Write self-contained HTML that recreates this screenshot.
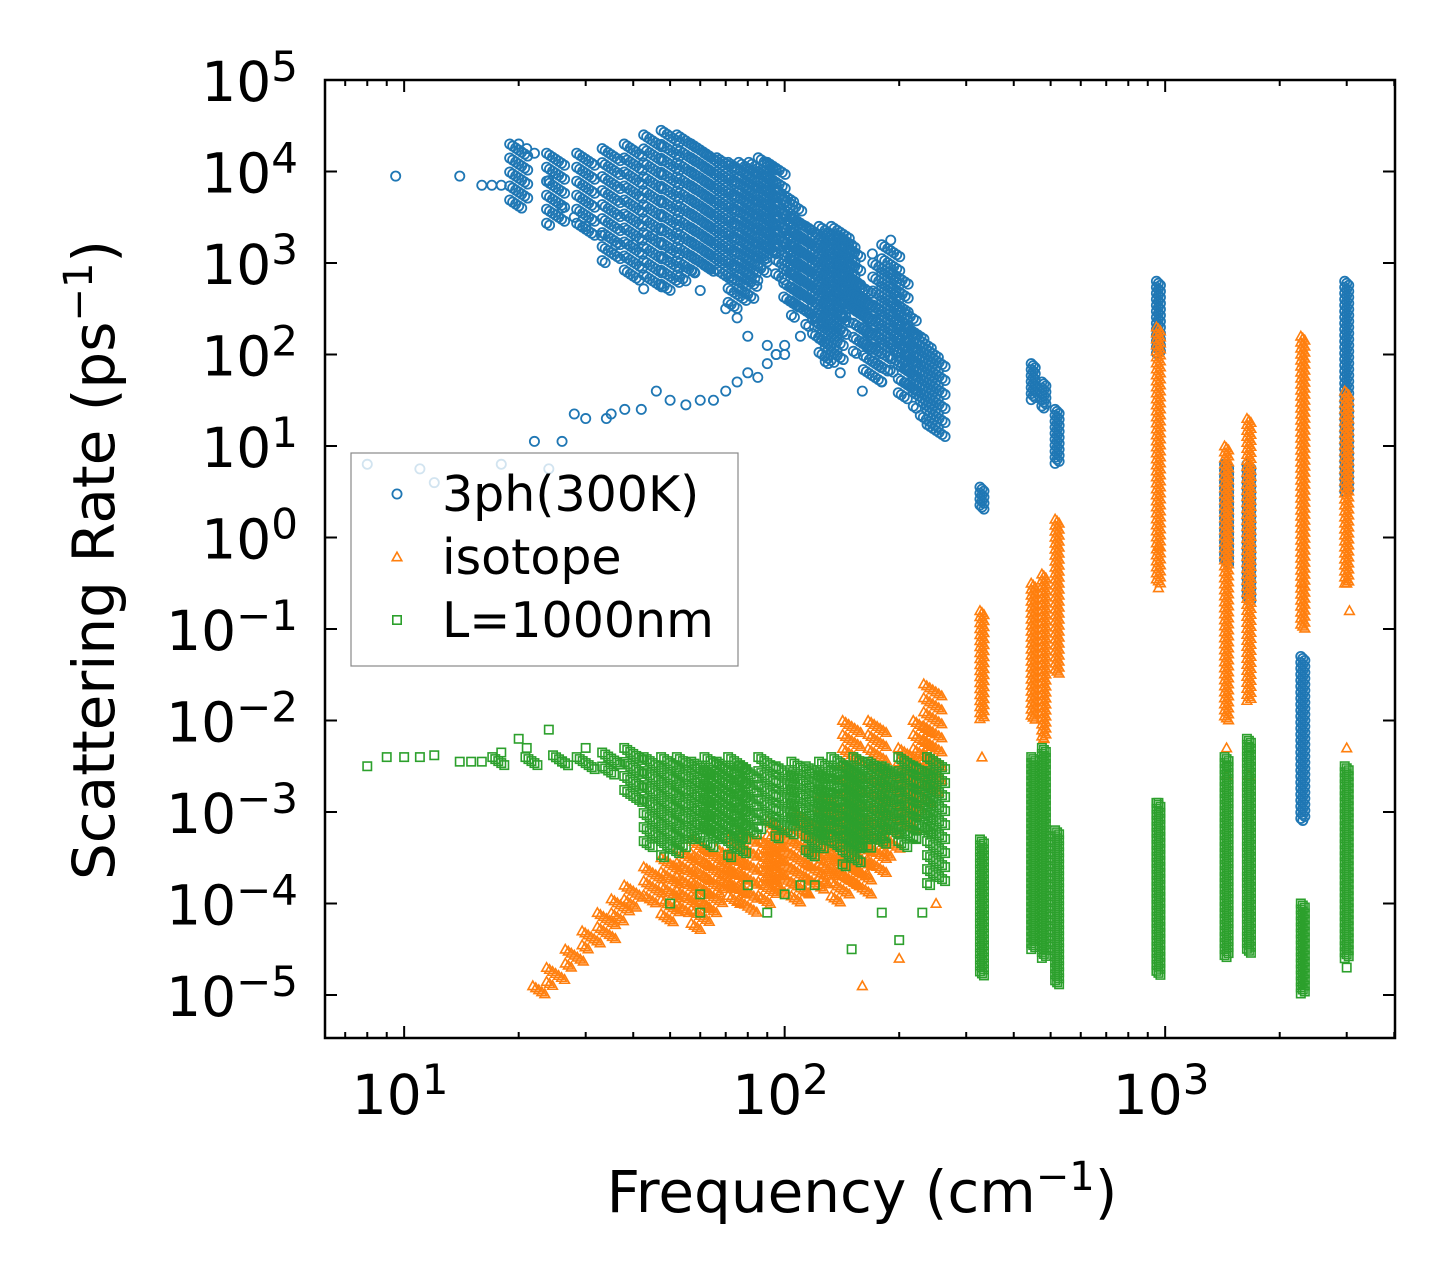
<!DOCTYPE html>
<html><head><meta charset="utf-8"><style>
html,body{margin:0;padding:0;background:#fff;}
svg{display:block;font-family:"DejaVu Sans","Liberation Sans",sans-serif;}
</style></head><body>
<svg id="chart" width="1455" height="1287" viewBox="0 0 1455 1287" xmlns="http://www.w3.org/2000/svg">
<rect width="1455" height="1287" fill="#fff"/>
<g id="marks"></g>
<g id="axes"></g>
</svg>
<script>
// ---- data (log10 values) ----
// dense column bands: [frequency, log10 low, log10 high]
const blueBands = [[20,3.6,4.3],[25,3.4,4.2],[30,3.3,4.2],[35,3.0,4.25],[40,2.8,4.3],[45,2.7,4.4],[50,2.7,4.45],[55,2.8,4.4],[60,2.9,4.3],[65,2.9,4.2],[70,2.8,4.15],[75,2.5,4.1],[80,2.6,4.1],[85,2.8,4.1],[90,3.0,4.15],[95,3.1,4.1],[100,2.8,3.8],[105,2.5,3.7],[110,2.4,3.5],[115,2.6,3.3],[120,2.3,3.4],[125,2.1,3.3],[130,1.9,3.4],[135,1.9,3.3],[140,2.2,3.4],[145,2.5,3.3],[150,2.4,3.2],[160,2.0,2.8],[170,1.7,2.6],[180,1.8,3.0],[190,2.0,3.2],[200,1.8,2.9],[210,1.5,2.5],[220,1.6,2.3],[230,1.4,2.2],[240,1.2,2.1],[250,1.1,2.0],
 [330,0.3,0.55],[450,1.5,1.9],[480,1.4,1.7],[520,0.8,1.4],[960,2.0,2.8],[1450,-0.3,0.8],[1660,-0.7,0.8],[2300,-3.1,-1.3],[3000,0.5,2.8]];
const blueFreq = [9.5,14,16,17,18,20,21,22,24,26,28,30,33,36,40,45,50,55,60,70,75,80,90,95,100,110,120,130,140,150,170,190,200,210,30,34,38,42,46,50,55,60,65,70,75,80,85,90,95,100,120,140,160,180,8,11,12,18,24,22,26,28,35];
const blueVal  = [3.95,3.95,3.85,3.85,3.85,4.3,4.25,4.2,3.9,3.6,3.5,3.4,3.3,3.2,3.2,3.3,3.1,2.9,2.7,2.5,2.4,2.2,2.1,2.0,2.0,2.2,2.4,2.7,3.0,3.2,3.1,3.25,2.6,2.4,1.3,1.3,1.4,1.4,1.6,1.5,1.45,1.5,1.5,1.6,1.7,1.8,1.75,1.9,2.0,2.1,2.3,1.8,1.6,1.7,0.8,0.75,0.6,0.8,0.75,1.05,1.05,1.35,1.35];
const orangeBands = [[23,-5,-4.9],[25,-4.9,-4.7],[28,-4.7,-4.5],[31,-4.5,-4.3],[34,-4.4,-4.1],[37,-4.2,-3.95],[40,-4.05,-3.8],[45,-4.0,-3.6],[50,-4.2,-3.5],[55,-4.1,-3.4],[60,-4.3,-3.3],[65,-4.1,-3.4],[70,-3.9,-3.4],[75,-4.0,-3.3],[80,-4.1,-3.2],[90,-4.0,-3.3],[95,-3.8,-3.1],[100,-3.9,-3.2],[110,-4.0,-3.0],[120,-3.9,-3.1],[130,-3.8,-2.8],[140,-4.0,-3.0],[150,-3.8,-2.0],[160,-3.9,-3.0],[175,-3.7,-2.0],[190,-3.5,-2.5],[210,-3.2,-2.3],[230,-3.0,-2.0],[245,-2.8,-1.6],
 [330,-2.0,-0.8],[450,-2.0,-0.5],[480,-2.2,-0.4],[520,-1.5,0.2],[960,-0.5,2.3],[1450,-2.0,1.0],[1660,-1.8,1.3],[2300,-1.0,2.2],[3000,-0.5,1.6]];
const orangeFreq = [160,200,330,480,960,960,1450,1450,1660,2300,3000,3050,3000,250];
const orangeVal  = [-4.9,-4.6,-2.4,-2.2,-0.1,-0.55,-2.3,-2.6,-2.6,-0.5,-0.5,-0.8,-2.3,-4.0];
const greenBands = [[18,-2.5,-2.4],[22,-2.5,-2.4],[26,-2.5,-2.38],[30,-2.55,-2.4],[35,-2.6,-2.35],[40,-2.9,-2.3],[45,-3.4,-2.4],[50,-3.5,-2.4],[55,-3.4,-2.4],[60,-3.3,-2.45],[65,-3.4,-2.4],[70,-3.3,-2.45],[75,-3.5,-2.4],[80,-3.3,-2.5],[90,-3.2,-2.4],[100,-3.3,-2.5],[110,-3.2,-2.45],[120,-3.5,-2.5],[130,-3.3,-2.45],[140,-3.4,-2.4],[150,-3.6,-2.5],[160,-3.4,-2.4],[175,-3.4,-2.45],[190,-3.3,-2.5],[210,-3.4,-2.4],[230,-3.3,-2.5],[250,-3.8,-2.4],
 [330,-4.8,-3.3],[450,-4.5,-2.4],[480,-4.6,-2.3],[520,-4.9,-3.2],[960,-4.8,-2.9],[1450,-4.6,-2.4],[1660,-4.55,-2.2],[2300,-5.0,-4.0],[3000,-4.6,-2.5]];
const greenFreq = [8,9,10,11,12,14,15,16,18,20,21,24,26,30,50,60,80,90,100,120,150,180,200,230,60,110,1660,1450,960,3000];
const greenVal  = [-2.5,-2.4,-2.4,-2.4,-2.38,-2.45,-2.45,-2.45,-2.35,-2.2,-2.3,-2.1,-2.45,-2.3,-4.0,-4.1,-3.8,-4.1,-3.9,-3.8,-4.5,-4.1,-4.4,-4.1,-3.9,-3.8,-2.3,-2.5,-2.9,-4.7];
const xTickVals = [1,2,3];
const yTickVals = [5,4,3,2,1,0,-1,-2,-3,-4,-5];

// ---- axes ----
const X0=325,X1=1395,Y0=80,Y1=1038;
const xLo=0.792,xHi=3.604,yLo=-5.47,yHi=5.0;
function xs(f){return X0+(Math.log10(f)-xLo)/(xHi-xLo)*(X1-X0);}
function ysL(l){return Y1-(l-yLo)/(yHi-yLo)*(Y1-Y0);}
const NS="http://www.w3.org/2000/svg";
const marks=document.getElementById('marks');
const axes=document.getElementById('axes');
function mk(tag,attrs,parent){const e=document.createElementNS(NS,tag);for(const k in attrs)e.setAttribute(k,attrs[k]);parent.appendChild(e);return e;}

const colors={blue:'#1f77b4',orange:'#ff7f0e',green:'#2ca02c'};
function marker(kind,cx,cy,g){
  let e;
  if(kind==='blue'){e=mk('circle',{cx:cx,cy:cy,r:4.6,fill:'none',stroke:colors.blue,'stroke-width':1.8},g);}
  else if(kind==='orange'){e=mk('polygon',{points:`${cx},${cy-4.8} ${cx-4.8},${cy+3.7} ${cx+4.8},${cy+3.7}`,fill:'none',stroke:colors.orange,'stroke-width':1.6},g);}
  else {e=mk('rect',{x:cx-4.2,y:cy-4.2,width:8.4,height:8.4,fill:'none',stroke:colors.green,'stroke-width':1.6},g);}
  return e;
}
function drawSeries(kind,bands,fr,vals){
  const g=mk('g',{},marks);
  
  
  bands.forEach((b,bi)=>{
    const x=xs(b[0]);const ya=ysL(b[2]),yb=ysL(b[1]);
    const wide=b[0]<300;
    let i=0;
    for(let y=ya;y<=yb;y+=2){
      const off=wide?((i%7)-3)*3:((i%3)-1)*2;
      const m=marker(kind,x+off,y,g);
      
      
      i++;
    }
  });
  fr.forEach((f,i)=>{
    const m=marker(kind,xs(f),ysL(vals[i]),g);
    
    
  });
}
drawSeries('blue',blueBands,blueFreq,blueVal);
drawSeries('orange',orangeBands,orangeFreq,orangeVal);
drawSeries('green',greenBands,greenFreq,greenVal);

// frame
const fr=mk('rect',{x:X0,y:Y0,width:X1-X0,height:Y1-Y0,fill:'none',stroke:'#000','stroke-width':2.5},axes);


// x ticks
for(let d=0;d<=3;d++){for(let m=1;m<10;m++){
  const f=m*Math.pow(10,d);const x=xs(f);
  if(x<X0||x>X1)continue;
  const L=m===1?12:6;
  mk('line',{x1:x,y1:Y1,x2:x,y2:Y1-L,stroke:'#000','stroke-width':2},axes);
  mk('line',{x1:x,y1:Y0,x2:x,y2:Y0+L,stroke:'#000','stroke-width':2},axes);
}}
xTickVals.forEach(p=>{
  const t=mk('text',{x:xs(Math.pow(10,p))-4,y:1114,'font-size':55,'text-anchor':'middle'},axes);
  
  
  t.innerHTML=`10<tspan dy="-20" font-size="42">${p}</tspan>`;
});
yTickVals.forEach(p=>{
  const y=ysL(p);
  mk('line',{x1:X0,y1:y,x2:X0+12,y2:y,stroke:'#000','stroke-width':2},axes);
  mk('line',{x1:X1,y1:y,x2:X1-12,y2:y,stroke:'#000','stroke-width':2},axes);
  const t=mk('text',{x:298,y:y+21,'font-size':55,'text-anchor':'end'},axes);
  
  
  const s=p<0?'\u2212'+(-p):''+p;
  t.innerHTML=`10<tspan dy="-20" font-size="42">${s}</tspan>`;
});
// axis titles
const xt=mk('text',{x:862,y:1212,'font-size':58,'text-anchor':'middle'},axes);


xt.innerHTML='Frequency (cm<tspan dy="-22" font-size="40">\u22121</tspan><tspan dy="22">)</tspan>';
const yt=mk('text',{x:0,y:0,'font-size':58,'text-anchor':'middle',transform:'translate(114,560) rotate(-90)'},axes);


yt.innerHTML='Scattering Rate (ps<tspan dy="-22" font-size="40">\u22121</tspan><tspan dy="22">)</tspan>';
// legend
const lg=mk('g',{},axes);


mk('rect',{x:351,y:453,width:387,height:213,fill:'#fff','fill-opacity':0.8,stroke:'#888','stroke-width':1.2},lg);
const entries=[['blue','3ph(300K)',494],['orange','isotope',557],['green','L=1000nm',620]];
entries.forEach(e=>{
  const g=mk('g',{},lg);
  
  
  marker(e[0],397,e[2],g);
  const t=mk('text',{x:442,y:e[2]+17,'font-size':49},g);
  t.textContent=e[1];
});
</script>
</body></html>
